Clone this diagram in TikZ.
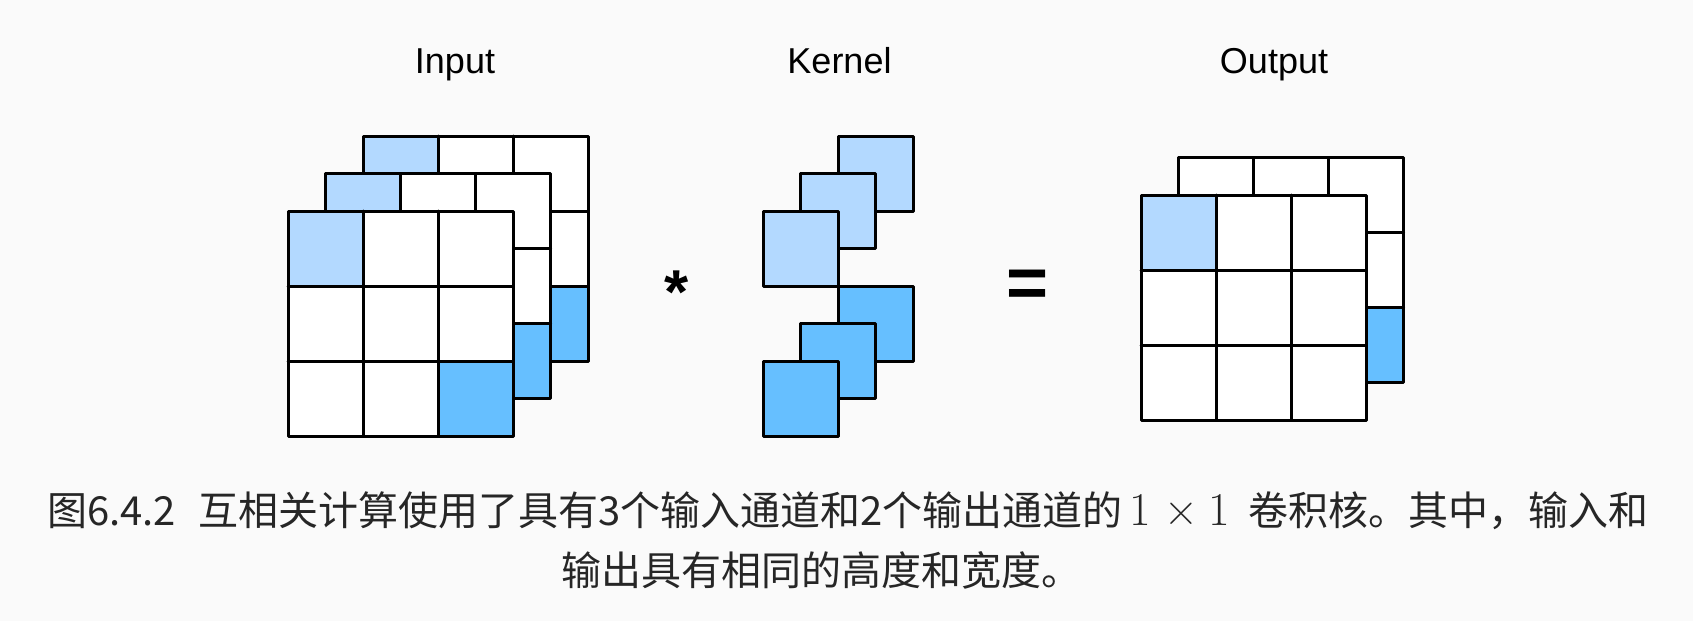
\documentclass[tikz,border=0pt]{standalone}
\usepackage[no-math]{fontspec}
\setsansfont{Liberation Sans}
\newfontfamily\cjk{Noto Sans CJK SC}
\definecolor{bgcol}{HTML}{FAFAFA}
\definecolor{lightb}{HTML}{B3D9FF}
\definecolor{darkb}{HTML}{66BFFF}
\tikzset{
  cellline/.style={line width=3pt, line join=round, line cap=round, draw=black},
  lbl/.style={font=\sffamily\fontsize{36}{43}\selectfont, anchor=base, inner sep=0pt},
  opsym/.style={font=\sffamily\bfseries, inner sep=0pt},
  captext/.style={font=\cjk\fontsize{40}{60}\selectfont, text=black!85, anchor=base west, inner sep=0pt}
}
% grid: x, y (top-left, y downward), top-left fill, bottom-right fill
\newcommand{\mygrid}[4]{%
  \fill[white] (#1,#2) rectangle ++(225,225);
  \fill[#3] (#1,#2) rectangle ++(75,75);
  \fill[#4] (#1+150,#2+150) rectangle ++(75,75);
  \foreach \k in {75,150}{%
    \draw[cellline] (#1+\k,#2) -- ++(0,225);
    \draw[cellline] (#1,#2+\k) -- ++(225,0);
  }
  \draw[cellline] (#1,#2) rectangle ++(225,225);
}
\newcommand{\mysq}[3]{%
  \draw[cellline, fill=#3] (#1,#2) rectangle ++(75,75);
}
\begin{document}
\begin{tikzpicture}[x=1pt, y=-1pt]
\fill[bgcol] (0,0) rectangle (1693,621);
\useasboundingbox (0,0) rectangle (1693,621);

% labels
\node[lbl] (inlbl) at (455,73) {Input};
\node[lbl] (kerlbl) at (839.5,73) {Kernel};
\node[lbl] (outlbl) at (1274,73) {Output};

% input channels
\mygrid{363}{136}{lightb}{darkb}
\mygrid{325.5}{173.5}{lightb}{darkb}
\mygrid{288}{211}{lightb}{darkb}

% kernel
\mysq{838}{136}{lightb}
\mysq{800.5}{173.5}{lightb}
\mysq{763}{211}{lightb}
\mysq{838}{286}{darkb}
\mysq{800.5}{323.5}{darkb}
\mysq{763}{361}{darkb}

% output channels
\mygrid{1178.5}{157.5}{white}{darkb}
\mygrid{1141}{195}{lightb}{white}

% operators
\node[opsym, font=\sffamily\bfseries\fontsize{62}{62}\selectfont, anchor=base] (star) at (676.5,313) {*};
\node[opsym, font=\sffamily\bfseries\fontsize{72}{72}\selectfont, anchor=base] (eq) at (1028,307) {=};

% caption
\node[captext] (cap1) at (47,525) {图6.4.2\hspace{0.55em}互相关计算使用了具有3个输入通道和2个输出通道的\hspace{6.7pt}{\rmfamily\fontsize{47}{47}\selectfont 1\hspace{0.3em}×\hspace{0.2em}1}\hspace{19pt}卷积核。其中，输入和};
\node[captext] (cap2) at (561,585) {输出具有相同的高度和宽度。};
\end{tikzpicture}
\end{document}
